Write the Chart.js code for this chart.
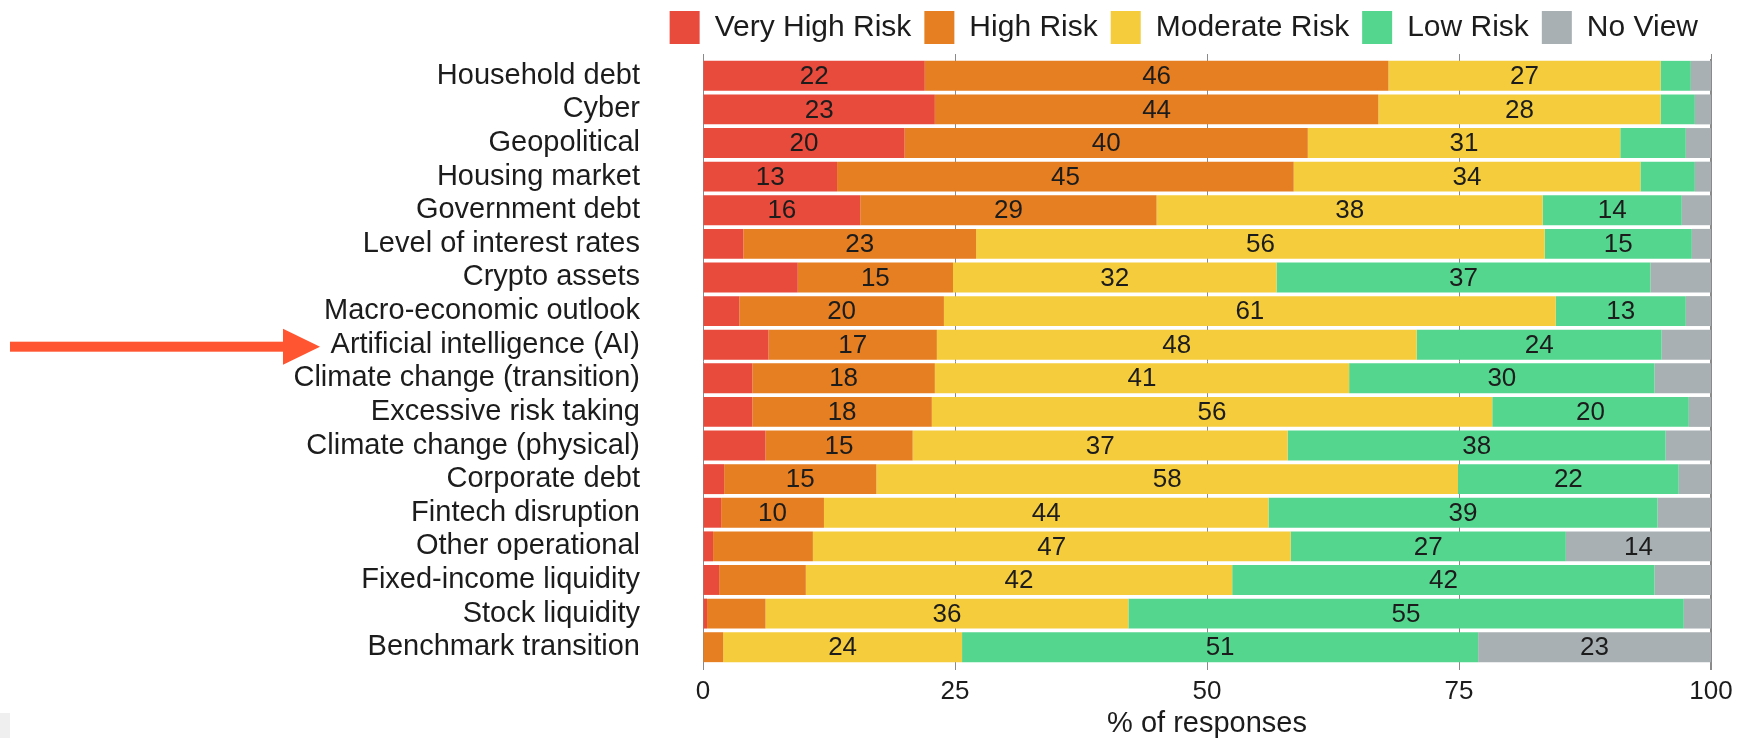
<!DOCTYPE html>
<html>
<head>
<meta charset="utf-8">
<script src="https://cdn.jsdelivr.net/npm/chart.js@4.4.1/dist/chart.umd.min.js"></script>
<style>
  html, body { margin: 0; padding: 0; background: #fff; }
  #wrap { width: 1742px; height: 738px; }
</style>
</head>
<body>
<div id="wrap"><canvas id="chart" width="1742" height="738"></canvas></div>
<script>
const FONT = "'Liberation Sans', Arial, sans-serif";

const categories = [
    "Household debt", "Cyber", "Geopolitical", "Housing market", "Government debt",
    "Level of interest rates", "Crypto assets", "Macro-economic outlook",
    "Artificial intelligence (AI)", "Climate change (transition)", "Excessive risk taking",
    "Climate change (physical)", "Corporate debt", "Fintech disruption", "Other operational",
    "Fixed-income liquidity", "Stock liquidity", "Benchmark transition",
];

const veryHighRisk = [22, 23, 20, 13.3, 15.6, 4.0, 9.4, 3.6, 6.5, 4.9, 4.9, 6.2, 2.1, 1.8, 1.0, 1.6, 0.4, 0];
const highRisk     = [46, 44, 40, 45.3, 29.4, 23.1, 15.4, 20.3, 16.7, 18.1, 17.8, 14.6, 15.1, 10.2, 9.9, 8.6, 5.8, 2.0];
const moderateRisk = [27, 28, 31, 34.4, 38.3, 56.4, 32.1, 60.7, 47.6, 41.1, 55.6, 37.2, 57.7, 44.1, 47.4, 42.3, 36.0, 23.7];
const lowRisk      = [3, 3.4, 6.5, 5.4, 13.8, 14.6, 37.1, 12.9, 24.3, 30.3, 19.5, 37.5, 21.9, 38.6, 27.3, 41.9, 55.1, 51.2];
const noView       = [2, 1.6, 2.5, 1.6, 2.9, 1.9, 6.0, 2.5, 4.9, 5.6, 2.2, 4.5, 3.2, 5.3, 14.4, 5.6, 2.7, 23.1];

const xTicks = [0, 25, 50, 75, 100];
const highlighted = "Artificial intelligence (AI)";

const series = [
    { label: "Very High Risk", data: veryHighRisk, color: "#E84A3C" },
    { label: "High Risk", data: highRisk, color: "#E67E22" },
    { label: "Moderate Risk", data: moderateRisk, color: "#F4CC3C" },
    { label: "Low Risk", data: lowRisk, color: "#55D68F" },
    { label: "No View", data: noView, color: "#A8B0B3" },
];

// value labels in the middle of each segment (only the bigger ones)
const barLabels = {
    id: "barLabels",
    afterDatasetsDraw(chart) {
        const ctx = chart.ctx;
        ctx.save();
        ctx.font = "26px " + FONT;
        ctx.fillStyle = "#1c1c1c";
        ctx.textAlign = "center";
        ctx.textBaseline = "middle";
        chart.data.datasets.forEach((ds, i) => {
            chart.getDatasetMeta(i).data.forEach((bar, j) => {
                const v = ds.data[j];
                if (v < 10) return;
                ctx.fillText(Math.round(v), (bar.x + bar.base) / 2, bar.y + 1);
            });
        });
        ctx.restore();
    },
};

// red arrow pointing at the highlighted category
const arrow = {
    id: "arrow",
    afterDraw(chart) {
        const ctx = chart.ctx;
        const y = chart.scales.y.getPixelForValue(categories.indexOf(highlighted)) + 2;
        ctx.save();
        ctx.fillStyle = "#FF5530";
        ctx.fillRect(10, y - 5, 276, 10);
        ctx.beginPath();
        ctx.moveTo(283, y - 18);
        ctx.lineTo(320, y);
        ctx.lineTo(283, y + 18);
        ctx.closePath();
        ctx.fill();
        ctx.fillStyle = "#efefef";
        ctx.fillRect(0, 713, 10, 25);
        ctx.restore();
    },
};

new Chart(document.getElementById("chart"), {
    type: "bar",
    data: {
        labels: categories,
        datasets: series.map((s) => ({
            label: s.label,
            data: s.data,
            backgroundColor: s.color,
            borderColor: s.color,
            borderWidth: 0,
            barPercentage: 0.89,
            categoryPercentage: 1.0,
        })),
    },
    options: {
        indexAxis: "y",
        responsive: false,
        animation: false,
        layout: {
            padding: { top: -2, right: 31, bottom: -5, left: 0 },
        },
        plugins: {
            tooltip: { enabled: false },
            legend: {
                position: "top",
                align: "end",
                labels: {
                    boxWidth: 30,
                    boxHeight: 33,
                    padding: 13,
                    color: "#1c1c1c",
                    font: { family: FONT, size: 30 },
                },
            },
        },
        scales: {
            x: {
                stacked: true,
                min: 0,
                max: 100,
                afterBuildTicks: (scale) => {
                    scale.ticks = xTicks.map((v) => ({ value: v }));
                },
                grid: {
                    color: "#8a8a8a",
                    lineWidth: (c) => (c.tick && c.tick.value === 100 ? 2 : 1),
                    tickLength: 6,
                },
                border: { display: false },
                ticks: {
                    color: "#1c1c1c",
                    padding: 9,
                    font: { family: FONT, size: 26, lineHeight: 1 },
                },
                title: {
                    display: true,
                    text: "% of responses",
                    color: "#1c1c1c",
                    font: { family: FONT, size: 29, lineHeight: 1 },
                    padding: { top: -5, bottom: 5 },
                },
            },
            x2: {
                position: "top",
                min: 0,
                max: 100,
                afterBuildTicks: (scale) => {
                    scale.ticks = xTicks.map((v) => ({ value: v }));
                },
                grid: { drawOnChartArea: false, color: "#8a8a8a", tickLength: 5 },
                border: { display: false },
                ticks: { display: false },
            },
            y: {
                stacked: true,
                afterFit: (scale) => {
                    scale.width = 703;
                    // the big label padding must not push the plot area down
                    scale.paddingTop = 0;
                    scale.paddingBottom = 0;
                },
                grid: { display: false, drawTicks: false },
                border: { display: false },
                ticks: {
                    autoSkip: false,
                    padding: 63,
                    color: "#1c1c1c",
                    font: { family: FONT, size: 29, lineHeight: 1 },
                },
            },
        },
    },
    plugins: [barLabels, arrow],
});
</script>
</body>
</html>
